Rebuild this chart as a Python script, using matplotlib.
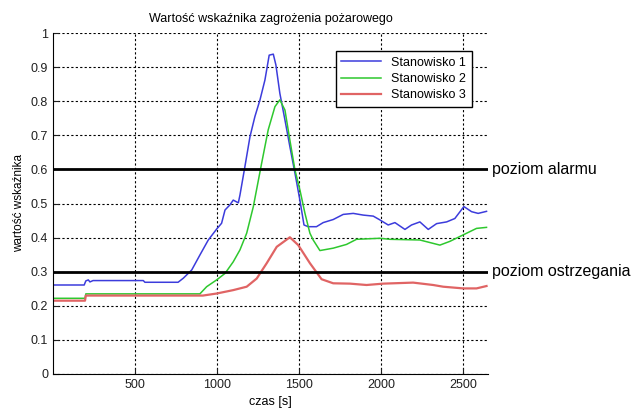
import matplotlib
matplotlib.use("Agg")
import matplotlib.pyplot as plt
import matplotlib.transforms as mtransforms

plt.rcParams['font.family'] = ['Liberation Sans', 'DejaVu Sans']

# czas [s] i wartosc wskaznika
t1 = [0, 190, 200, 215, 225, 244, 550, 560, 762, 794, 845, 895, 946, 997, 1027,
      1048, 1078, 1098, 1129, 1139, 1169, 1200, 1230, 1261, 1291, 1317, 1342,
      1358, 1382, 1413, 1443, 1474, 1504, 1529, 1555, 1605, 1646, 1707, 1768,
      1829, 1890, 1951, 1991, 2042, 2083, 2144, 2184, 2235, 2286, 2337, 2398,
      2448, 2503, 2550, 2590, 2641]
s1 = [0.261, 0.261, 0.273, 0.276, 0.270, 0.274, 0.274, 0.269, 0.269, 0.281,
      0.305, 0.349, 0.393, 0.425, 0.442, 0.481, 0.496, 0.510, 0.502, 0.525,
      0.608, 0.696, 0.755, 0.804, 0.862, 0.935, 0.938, 0.906, 0.823, 0.745,
      0.667, 0.589, 0.510, 0.437, 0.432, 0.432, 0.444, 0.453, 0.468, 0.471,
      0.466, 0.463, 0.452, 0.437, 0.444, 0.424, 0.437, 0.446, 0.424, 0.441,
      0.446, 0.456, 0.491, 0.476, 0.471, 0.477]

t2 = [0, 195, 200, 895, 936, 997, 1048, 1098, 1139, 1180, 1220, 1271, 1311,
      1352, 1382, 1413, 1443, 1474, 1504, 1535, 1565, 1585, 1626, 1707, 1788,
      1849, 1991, 2052, 2235, 2357, 2418, 2499, 2580, 2641]
s2 = [0.222, 0.222, 0.235, 0.235, 0.256, 0.276, 0.295, 0.329, 0.364, 0.413,
      0.490, 0.618, 0.716, 0.784, 0.804, 0.774, 0.686, 0.598, 0.540, 0.471,
      0.413, 0.393, 0.362, 0.369, 0.380, 0.395, 0.398, 0.395, 0.393, 0.378,
      0.389, 0.408, 0.427, 0.430]

t3 = [0, 195, 200, 913, 997, 1098, 1180, 1241, 1302, 1363, 1443, 1494, 1565,
      1636, 1707, 1809, 1910, 2012, 2194, 2316, 2377, 2499, 2580, 2641]
s3 = [0.215, 0.215, 0.230, 0.230, 0.236, 0.246, 0.256, 0.280, 0.325, 0.373,
      0.401, 0.378, 0.325, 0.278, 0.266, 0.265, 0.261, 0.265, 0.268, 0.261,
      0.256, 0.251, 0.251, 0.258]

names = ['Stanowisko 1', 'Stanowisko 2', 'Stanowisko 3']
alarm = 0.6
ostrz = 0.3
xticks = [500, 1000, 1500, 2000, 2500]
yticks = [0, 0.1, 0.2, 0.3, 0.4, 0.5, 0.6, 0.7, 0.8, 0.9, 1]

fig = plt.figure(figsize=(6.44, 4.2), dpi=100)
ax = fig.add_axes([53 / 644, 46 / 420, 435 / 644, 341 / 420])

ax.plot(t1, s1, color='#3c3cdc', lw=1.1, label=names[0])
ax.plot(t2, s2, color='#2ec82e', lw=1.1, label=names[1])
ax.plot(t3, s3, color='#e06464', lw=1.6, label=names[2])

ax.axhline(alarm, color='black', lw=2.0)
ax.axhline(ostrz, color='black', lw=2.0)

tr = mtransforms.blended_transform_factory(ax.transAxes, ax.transData)
ax.text(1.01, alarm, 'poziom alarmu', transform=tr, va='center', ha='left',
        fontsize=11.5, clip_on=False)
ax.text(1.01, ostrz, 'poziom ostrzegania', transform=tr, va='center',
        ha='left', fontsize=11.5, clip_on=False)

ax.set_xlim(0, 2650)
ax.set_ylim(0, 1)
ax.set_xticks(xticks)
ax.set_yticks(yticks)
ax.set_yticklabels(['0' if v == 0 else ('1' if v == 1 else '%g' % v) for v in yticks])
ax.tick_params(direction='in', length=4, labelsize=9, colors='#202020')
ax.grid(True, color='black', linestyle=(0, (2, 2)), lw=0.8)
ax.spines['top'].set_visible(False)
ax.spines['right'].set_visible(False)

ax.set_title('Wartość wskaźnika zagrożenia pożarowego', fontsize=9, pad=8)
ax.set_xlabel('czas [s]', fontsize=9)
ax.set_ylabel('wartość wskaźnika', fontsize=8.5)

leg = ax.legend(loc='upper right', bbox_to_anchor=(0.963, 0.947), fontsize=9,
                fancybox=False, framealpha=1, edgecolor='black',
                handlelength=3.2, borderpad=0.45, labelspacing=0.35,
                borderaxespad=0)
leg.get_frame().set_linewidth(1.0)

fig.savefig('out.png', dpi=100)
